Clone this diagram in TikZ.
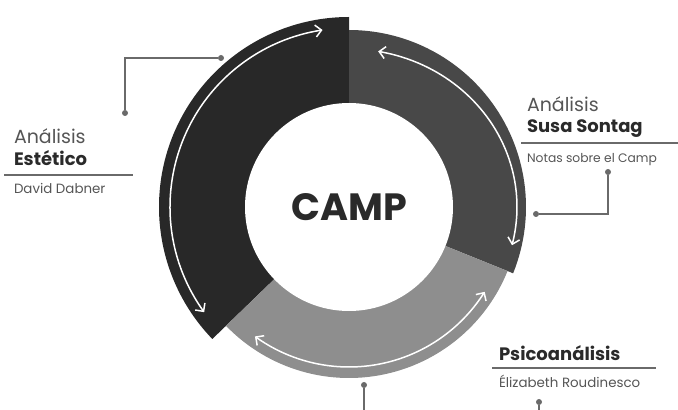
\documentclass[tikz,border=0pt]{standalone}
\usepackage{fontspec}
\setmainfont{Poppins}
\usetikzlibrary{arrows.meta,bending}
\definecolor{segA}{HTML}{282828}
\definecolor{segB}{HTML}{484848}
\definecolor{segC}{HTML}{8E8E8E}
\definecolor{leader}{HTML}{6A6A6A}
\definecolor{lighttxt}{HTML}{555555}
\definecolor{darktxt}{HTML}{2A2A2A}
\begin{document}
\begin{tikzpicture}[x=1pt,y=1pt,
  flow/.style={white, line width=1.5pt,
    {Straight Barb[length=6pt,width=12pt]}-{Straight Barb[length=6pt,width=12pt]}},
  dot/.style={circle, fill=leader, inner sep=0pt, minimum size=6pt},
  leaderline/.style={draw=leader, line width=1.4pt},
  rule/.style={draw=leader, line width=1.2pt},
  txt/.style={anchor=base west, inner sep=0pt, outer sep=0pt},
  kicker/.style={txt, text=lighttxt, font=\fontsize{19}{19}\selectfont},
  head/.style={txt, text=darktxt, font=\fontsize{18}{18}\selectfont\bfseries},
  sub/.style={txt, text=lighttxt, font=\fontsize{13.4}{13.4}\selectfont},
  subsmall/.style={txt, text=lighttxt, font=\fontsize{12.3}{12.3}\selectfont}]
\useasboundingbox (0,0) rectangle (678,410);
\coordinate (C) at (349,203);
% ring segments
\fill[segA] (C) -- ++(90:190) arc[start angle=90,end angle=224,radius=190] -- cycle;
\fill[segB] (C) -- ++(-22:177) arc[start angle=-22,end angle=90,radius=177] -- cycle;
\fill[segC] (C) -- ++(224:171) arc[start angle=224,end angle=338,radius=171] -- cycle;
\node[circle, fill=white, minimum size=208pt, inner sep=0pt, text=darktxt,
      font=\fontsize{38}{38}\selectfont\bfseries] (hub) at (C) {CAMP};
% cycle arrows
\draw[flow] ([shift={(216:179)}]C) arc[start angle=216,end angle=98.5,radius=179];
\draw[flow] ([shift={({168*cos(80)},{158*sin(80)})}]C) arc[start angle=80,end angle=-14,x radius=168,y radius=158];
\draw[flow] ([shift={(234:160)}]C) arc[start angle=234,end angle=328,radius=160];
% left callout
\node[dot] (dA1) at (221,352) {};
\node[dot] (dA2) at (125,297) {};
\coordinate (kA) at (125,352);
\draw[leaderline] (dA1) -- (kA) -- (dA2);
\node[kicker] (tA1) at (14,266) {Análisis};
\node[head] (tA2) at (14,244) {Estético};
\draw[rule] (4,235) -- (133,235);
\node[sub] (tA3) at (14,216) {David Dabner};
% right callout
\node[kicker] (tB1) at (527,298) {Análisis};
\node[head] (tB2) at (527,277) {Susa Sontag};
\draw[rule] (521,267) -- (678,267);
\node[subsmall] (tB3) at (527,247) {Notas sobre el Camp};
\node[dot] (dB1) at (608,238) {};
\node[dot] (dB2) at (536,196) {};
\coordinate (kB) at (608,196);
\draw[leaderline] (dB1) -- (kB) -- (dB2);
% bottom callout
\node[head] (tC1) at (499,49) {Psicoanálisis};
\draw[rule] (492,42) -- (656,42);
\node[sub] (tC2) at (499,23) {Élizabeth Roudinesco};
\node[dot] (dC1) at (539,8) {};
\coordinate (eC1) at (539,0);
\draw[leaderline] (dC1) -- (eC1);
\node[dot] (dC2) at (364,25) {};
\coordinate (eC2) at (364,0);
\draw[leaderline] (dC2) -- (eC2);
\end{tikzpicture}
\end{document}
